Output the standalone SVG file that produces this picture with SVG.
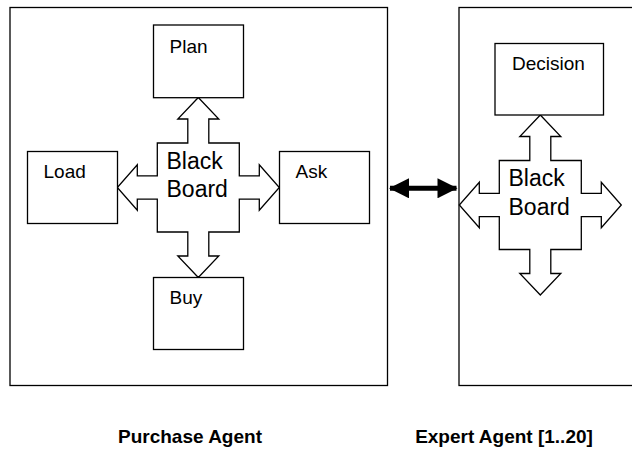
<svg xmlns="http://www.w3.org/2000/svg" width="632" height="459" viewBox="0 0 632 459">
  <style>
    .frame { fill: #ffffff; stroke: #000000; stroke-width: 1.3; }
    .box { fill: #ffffff; stroke: #000000; stroke-width: 1.3; }
    .cross { fill: #ffffff; stroke: #000000; stroke-width: 1.3; stroke-linejoin: miter; }
    .lbl { font-family: "Liberation Sans", Arial, sans-serif; font-size: 19px; fill: #000000; }
    .bb { font-family: "Liberation Sans", Arial, sans-serif; font-size: 23px; fill: #000000; }
    .title { font-family: "Liberation Sans", Arial, sans-serif; font-size: 19px; font-weight: bold; fill: #000000; }
    .link { stroke: #000000; stroke-width: 5; fill: none; }
  </style>
  <defs>
    <!-- four-way blackboard arrow, centred on (0,0) -->
    <path id="bbcross" d="M0,-90 L20.5,-68.5 L10.5,-68.5 L10.5,-44.5 L41,-44.5 L41,-11.7 L61,-11.7 L61,-22.7 L81,0 L61,22.7 L61,11.7 L41,11.7 L41,44.5 L10.5,44.5 L10.5,68.5 L20.5,68.5 L0,90 L-20.5,68.5 L-10.5,68.5 L-10.5,44.5 L-41,44.5 L-41,11.7 L-61,11.7 L-61,22.7 L-81,0 L-61,-22.7 L-61,-11.7 L-41,-11.7 L-41,-44.5 L-10.5,-44.5 L-10.5,-68.5 L-20.5,-68.5 Z"/>
    <marker id="headEnd" viewBox="0 0 10 10" refX="9.5" refY="5" markerWidth="4.4" markerHeight="4" orient="auto" markerUnits="strokeWidth">
      <path d="M0,0 L10,5 L0,10 Z" fill="#000000"/>
    </marker>
    <marker id="headStart" viewBox="0 0 10 10" refX="0.5" refY="5" markerWidth="4.4" markerHeight="4" orient="auto" markerUnits="strokeWidth">
      <path d="M10,0 L0,5 L10,10 Z" fill="#000000"/>
    </marker>
  </defs>

  <!-- Purchase agent -->
  <g id="purchase-agent">
    <rect class="frame" x="10" y="7.5" width="377.5" height="378"/>
    <text class="title" x="190" y="443" text-anchor="middle">Purchase Agent</text>
  </g>
  <g id="purchase-blackboard">
    <use href="#bbcross" class="cross" transform="translate(198.3,187.5)"/>
    <text class="bb" x="166.5" y="168.5">Black</text>
    <text class="bb" x="166.5" y="197">Board</text>
  </g>
  <g id="plan">
    <rect class="box" x="153.5" y="25" width="90" height="72.7"/>
    <text class="lbl" x="169.5" y="52.5">Plan</text>
  </g>
  <g id="load">
    <rect class="box" x="27.5" y="151.5" width="90" height="72"/>
    <text class="lbl" x="43.5" y="177.5">Load</text>
  </g>
  <g id="ask">
    <rect class="box" x="279.5" y="151.5" width="90" height="72"/>
    <text class="lbl" x="295.5" y="177.5">Ask</text>
  </g>
  <g id="buy">
    <rect class="box" x="153.5" y="277.5" width="90" height="72"/>
    <text class="lbl" x="169.5" y="304">Buy</text>
  </g>

  <!-- Expert agent -->
  <g id="expert-agent">
    <rect class="frame" x="459" y="7.5" width="190" height="378"/>
    <text class="title" x="504" y="443" text-anchor="middle">Expert Agent [1..20]</text>
  </g>
  <g id="expert-blackboard">
    <use href="#bbcross" class="cross" transform="translate(540.3,205)"/>
    <text class="bb" x="508.5" y="186">Black</text>
    <text class="bb" x="508.5" y="214.5">Board</text>
  </g>
  <g id="decision">
    <rect class="box" x="495" y="43.5" width="108.5" height="71.5"/>
    <text class="lbl" x="512" y="70">Decision</text>
  </g>

  <!-- connectors -->
  <g id="connectors">
    <line class="link" x1="390" y1="188.3" x2="456.5" y2="188.3" marker-start="url(#headStart)" marker-end="url(#headEnd)"/>
  </g>
</svg>
